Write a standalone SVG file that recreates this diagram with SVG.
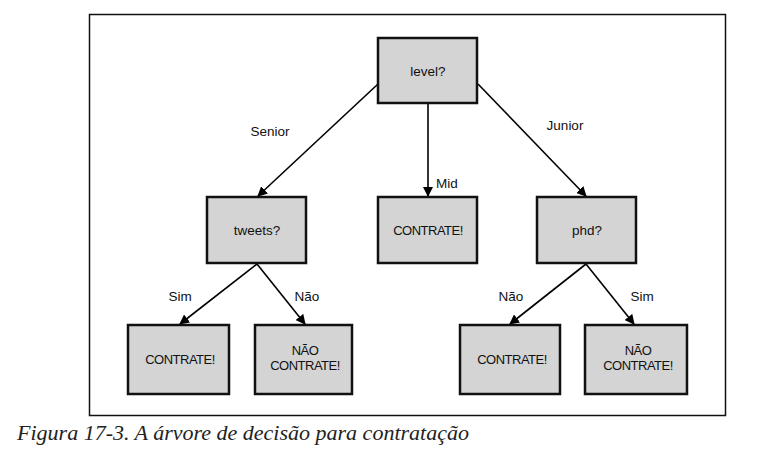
<svg xmlns="http://www.w3.org/2000/svg" width="769" height="451" viewBox="0 0 769 451">
<defs>
<marker id="ah" viewBox="0 0 10 10" refX="9" refY="5" markerWidth="10" markerHeight="10" markerUnits="userSpaceOnUse" orient="auto">
<path d="M0,0 L10,5 L0,10 z" fill="#000"/>
</marker>
<style>
.box{fill:#d4d4d4;stroke:#111;stroke-width:2.5}
.t{font-family:"Liberation Sans",Arial,sans-serif;font-size:13.5px;fill:#111;text-anchor:middle}
.c{font-family:"Liberation Sans",Arial,sans-serif;font-size:13px;fill:#111;text-anchor:middle;letter-spacing:-0.5px}
.l{font-family:"Liberation Sans",Arial,sans-serif;font-size:13.5px;fill:#111;text-anchor:middle}
.e{stroke:#000;stroke-width:1.6;fill:none;marker-end:url(#ah)}
</style>
</defs>
<rect x="0" y="0" width="769" height="451" fill="#fff"/>
<rect x="89.5" y="14.5" width="636" height="401" fill="#fff" stroke="#111" stroke-width="1.5"/>
<g id="connectors">
<line class="e" x1="378" y1="84" x2="258" y2="196"/>
<line class="e" x1="428" y1="104" x2="428" y2="196"/>
<line class="e" x1="478" y1="84" x2="586" y2="196"/>
<line class="e" x1="257" y1="264" x2="180" y2="324"/>
<line class="e" x1="257" y1="264" x2="305" y2="324"/>
<line class="e" x1="586" y1="264" x2="510" y2="324"/>
<line class="e" x1="586" y1="264" x2="634" y2="324"/>
<text class="l" x="270" y="136">Senior</text>
<text class="l" x="447" y="188">Mid</text>
<text class="l" x="565" y="130">Junior</text>
<text class="l" x="180" y="301">Sim</text>
<text class="l" x="307" y="301">Não</text>
<text class="l" x="511" y="301">Não</text>
<text class="l" x="642" y="301">Sim</text>
</g>
<g id="level"><rect class="box" x="378" y="38" width="99" height="65"/><text class="t" x="428" y="76">level?</text></g>
<g id="tweets"><rect class="box" x="207" y="197" width="99" height="66"/><text class="t" x="257" y="235">tweets?</text></g>
<g id="mid"><rect class="box" x="378" y="197" width="99" height="66"/><text class="c" x="428" y="235">CONTRATE!</text></g>
<g id="phd"><rect class="box" x="537" y="197" width="99" height="66"/><text class="t" x="587" y="235">phd?</text></g>
<g id="sim1"><rect class="box" x="128" y="325" width="101" height="69"/><text class="c" x="180" y="364">CONTRATE!</text></g>
<g id="nao1"><rect class="box" x="255" y="325" width="97" height="69"/><text class="c" x="305" y="355">NÃO</text><text class="c" x="305" y="370">CONTRATE!</text></g>
<g id="nao2"><rect class="box" x="460" y="325" width="100" height="69"/><text class="c" x="512" y="364">CONTRATE!</text></g>
<g id="sim2"><rect class="box" x="585" y="325" width="102" height="69"/><text class="c" x="638" y="355">NÃO</text><text class="c" x="638" y="370">CONTRATE!</text></g>
<text x="17" y="440" font-family="'Liberation Serif','Times New Roman',serif" font-style="italic" font-size="20.5" fill="#222" textLength="452" lengthAdjust="spacingAndGlyphs">Figura 17-3. A árvore de decisão para contratação</text>
</svg>
